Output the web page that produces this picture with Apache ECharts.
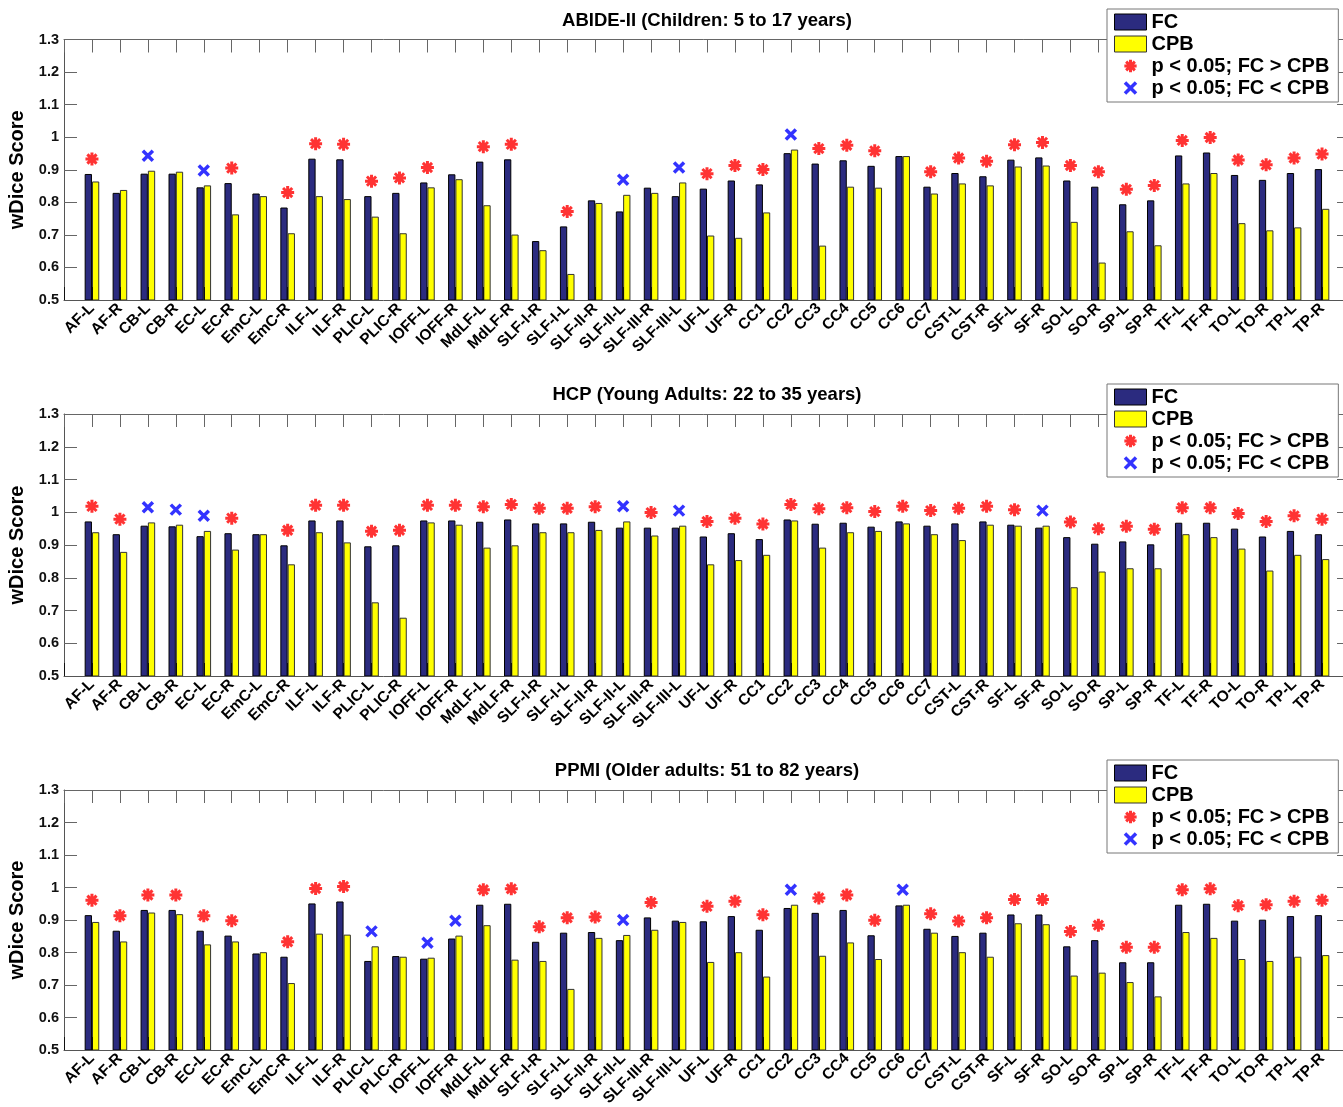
<!DOCTYPE html>
<html>
<head>
<meta charset="utf-8">
<title>wDice Score: FC vs CPB</title>
<script src="https://cdn.jsdelivr.net/npm/echarts@6/dist/echarts.min.js"></script>
<style>
  html, body { margin: 0; padding: 0; background: #fff; }
  #chart { width: 1343px; height: 1107px; }
</style>
</head>
<body>
<div id="chart"></div>
<script>
// Fibre bundle names, shared by all three cohorts
const categories = ['AF-L','AF-R','CB-L','CB-R','EC-L','EC-R','EmC-L','EmC-R','ILF-L','ILF-R',
  'PLIC-L','PLIC-R','IOFF-L','IOFF-R','MdLF-L','MdLF-R','SLF-I-R','SLF-I-L','SLF-II-R','SLF-II-L',
  'SLF-III-R','SLF-III-L','UF-L','UF-R','CC1','CC2','CC3','CC4','CC5','CC6',
  'CC7','CST-L','CST-R','SF-L','SF-R','SO-L','SO-R','SP-L','SP-R','TF-L',
  'TF-R','TO-L','TO-R','TP-L','TP-R'];

const yTicks = [0.5, 0.6, 0.7, 0.8, 0.9, 1, 1.1, 1.2, 1.3];

// ABIDE-II (children)
const abideFC  = [0.887,0.829,0.888,0.888,0.846,0.859,0.827,0.784,0.934,0.932,
  0.819,0.829,0.861,0.886,0.925,0.932,0.681,0.726,0.806,0.772,
  0.845,0.819,0.842,0.867,0.855,0.951,0.919,0.929,0.912,0.942,
  0.848,0.890,0.880,0.931,0.938,0.867,0.848,0.794,0.806,0.944,
  0.953,0.884,0.869,0.890,0.902];
const abideCPB = [0.864,0.838,0.897,0.894,0.852,0.763,0.819,0.705,0.819,0.810,
  0.756,0.705,0.846,0.871,0.791,0.701,0.653,0.580,0.798,0.823,
  0.829,0.861,0.698,0.691,0.769,0.962,0.667,0.848,0.845,0.942,
  0.827,0.858,0.852,0.910,0.913,0.740,0.615,0.711,0.668,0.858,
  0.890,0.736,0.714,0.723,0.780];
// 1: p < 0.05 with FC > CPB, -1: p < 0.05 with FC < CPB, 0: not significant
const abideSig = [1,0,-1,0,-1,1,0,1,1,1,
  1,1,1,0,1,1,0,1,0,-1,
  0,-1,1,1,1,-1,1,1,1,0,
  1,1,1,1,1,1,1,1,1,1,
  1,1,1,1,1];

// HCP (young adults)
const hcpFC  = [0.972,0.933,0.959,0.957,0.927,0.936,0.933,0.899,0.975,0.975,
  0.896,0.899,0.975,0.975,0.971,0.978,0.966,0.966,0.971,0.953,
  0.953,0.953,0.926,0.936,0.918,0.978,0.965,0.968,0.956,0.972,
  0.959,0.966,0.972,0.962,0.953,0.924,0.904,0.911,0.902,0.968,
  0.968,0.950,0.926,0.943,0.933];
const hcpCPB = [0.939,0.879,0.969,0.962,0.943,0.886,0.933,0.841,0.939,0.908,
  0.725,0.678,0.969,0.962,0.892,0.899,0.939,0.939,0.946,0.972,
  0.929,0.959,0.841,0.854,0.870,0.975,0.892,0.939,0.943,0.966,
  0.933,0.915,0.962,0.959,0.959,0.771,0.819,0.829,0.829,0.933,
  0.924,0.889,0.822,0.870,0.857];
const hcpSig = [1,1,-1,-1,-1,1,0,1,1,1,
  1,1,1,1,1,1,1,1,1,-1,
  1,-1,1,1,1,1,1,1,1,1,
  1,1,1,1,-1,1,1,1,1,1,
  1,1,1,1,1];

// PPMI (older adults)
const ppmiFC  = [0.915,0.867,0.931,0.931,0.867,0.852,0.797,0.787,0.951,0.957,
  0.774,0.789,0.781,0.843,0.947,0.950,0.833,0.861,0.863,0.838,
  0.908,0.898,0.896,0.912,0.870,0.937,0.922,0.931,0.853,0.945,
  0.873,0.851,0.861,0.917,0.917,0.819,0.838,0.770,0.770,0.947,
  0.950,0.898,0.901,0.912,0.915];
const ppmiCPB = [0.894,0.834,0.923,0.918,0.825,0.834,0.801,0.706,0.858,0.855,
  0.819,0.787,0.784,0.852,0.884,0.778,0.774,0.688,0.845,0.854,
  0.870,0.894,0.771,0.801,0.726,0.947,0.790,0.831,0.780,0.947,
  0.861,0.801,0.787,0.890,0.887,0.729,0.738,0.709,0.665,0.863,
  0.845,0.780,0.774,0.787,0.792];
const ppmiSig = [1,1,1,1,1,1,0,1,1,1,
  -1,0,-1,-1,1,1,1,1,1,-1,
  1,0,1,1,1,-1,1,1,1,-1,
  1,1,1,1,1,1,1,1,1,1,
  1,1,1,1,1];

const panelTitles = ['ABIDE-II (Children: 5 to 17 years)',
                     'HCP (Young Adults: 22 to 35 years)',
                     'PPMI (Older adults: 51 to 82 years)'];
const panelData = [
  [abideFC, abideCPB, abideSig],
  [hcpFC, hcpCPB, hcpSig],
  [ppmiFC, ppmiCPB, ppmiSig]
];

// ---- layout and styling ----
const FONT = '"Liberation Sans", Arial, Helvetica, sans-serif';
const GRID_LEFT = 64, GRID_WIDTH = 1286;
const gridTops = [39.5, 414, 790];
const gridHeights = [260.5, 262, 260];
const titleTops = [11.5, 385, 761.5];
const legendTops = [9, 384, 760];
const MARK_OFFSET = 0.046;          // markers sit just above the taller bar
const NAME_UP = 'p < 0.05; FC > CPB';
const NAME_DOWN = 'p < 0.05; FC < CPB';

const starPath = 'path://M0 -1L0 1M-1 0L1 0M-0.707 -0.707L0.707 0.707M-0.707 0.707L0.707 -0.707';
const crossPath = 'path://M-1 -1L1 1M-1 1L1 -1';
// legend icons: same glyphs, padded so they stay small inside the swatch box
const starIcon = 'path://M-1.3 -1.3M1.3 1.3M0 -1L0 1M-1 0L1 0M-0.707 -0.707L0.707 0.707M-0.707 0.707L0.707 -0.707';
const crossIcon = 'path://M-1.45 -1.45M1.45 1.45M-1 -1L1 1M-1 1L1 -1';

// one empty slot on each side so the first/last bundle sits a full step in from the frame
const axisCats = [''].concat(categories, [' ']);
const pad = arr => [null].concat(arr, [null]);

const option = {
  animation: false,
  backgroundColor: '#fff',
  title: [], grid: [], xAxis: [], yAxis: [], legend: [], series: []
};

panelData.forEach(function (d, p) {
  const fc = d[0], cpb = d[1], sig = d[2];
  const up = [], down = [];
  sig.forEach(function (s, i) {
    const top = Math.max(fc[i], cpb[i]) + MARK_OFFSET;
    if (s === 1) up.push([i + 1, top]);
    else if (s === -1) down.push([i + 1, top]);
  });

  option.title.push({
    text: panelTitles[p],
    left: GRID_LEFT + GRID_WIDTH / 2,
    textAlign: 'center',
    top: titleTops[p],
    padding: 0,
    textStyle: { fontFamily: FONT, fontSize: 18.5, fontWeight: 'bold', color: '#000' }
  });

  option.grid.push({
    left: GRID_LEFT, width: GRID_WIDTH, top: gridTops[p], height: gridHeights[p],
    containLabel: false, outerBoundsMode: 'none'
  });

  // bottom axis with labels
  option.xAxis.push({
    gridIndex: p, type: 'category', data: axisCats, boundaryGap: false,
    position: 'bottom', z: 3,
    axisLine: { show: true, lineStyle: { color: '#555', width: 1 } },
    axisTick: { show: true, inside: true, length: 13, interval: 0, lineStyle: { color: '#111', width: 1 } },
    axisLabel: { interval: 0, rotate: 45, margin: 6, fontFamily: FONT, fontSize: 15.5,
                 fontWeight: 'bold', color: '#000' },
    splitLine: { show: false }
  });
  // top frame edge with inward ticks
  option.xAxis.push({
    gridIndex: p, type: 'category', data: axisCats, boundaryGap: false,
    position: 'top',
    axisLine: { show: true, lineStyle: { color: '#666', width: 1 } },
    axisTick: { show: true, inside: true, length: 13, interval: 0, lineStyle: { color: '#666', width: 1 } },
    axisLabel: { show: false },
    splitLine: { show: false }
  });

  option.yAxis.push({
    gridIndex: p, type: 'value', min: yTicks[0], max: yTicks[yTicks.length - 1], interval: 0.1,
    position: 'left',
    name: 'wDice Score', nameLocation: 'middle', nameGap: 30, nameRotate: 90,
    nameTextStyle: { fontFamily: FONT, fontSize: 20, fontWeight: 'bold', color: '#000' },
    axisLine: { show: true, lineStyle: { color: '#555', width: 1 } },
    axisTick: { show: true, inside: true, length: 13, lineStyle: { color: '#666', width: 1 } },
    axisLabel: { margin: 5, fontFamily: FONT, fontSize: 14.5, fontWeight: 'bold', color: '#111',
                 formatter: v => String(Math.round(v * 10) / 10) },
    splitLine: { show: false }
  });
  option.yAxis.push({
    gridIndex: p, type: 'value', min: yTicks[0], max: yTicks[yTicks.length - 1], interval: 0.1,
    position: 'right',
    axisLine: { show: true, lineStyle: { color: '#555', width: 1 } },
    axisTick: { show: true, inside: true, length: 13, lineStyle: { color: '#666', width: 1 } },
    axisLabel: { show: false },
    splitLine: { show: false }
  });

  option.legend.push({
    orient: 'vertical', align: 'left',
    left: 1107, top: legendTops[p],
    itemWidth: 32, itemHeight: 16, itemGap: 2,
    padding: [3, 9, 4, 7],
    borderColor: '#777', borderWidth: 1, backgroundColor: '#fff',
    selectedMode: false,
    textStyle: { fontFamily: FONT, fontSize: 20, fontWeight: 'bold', color: '#000', lineHeight: 20 },
    data: [
      { name: 'FC', icon: 'rect', itemStyle: { color: '#2B2B7F', borderColor: '#000', borderWidth: 1 } },
      { name: 'CPB', icon: 'rect', itemStyle: { color: '#FFFF00', borderColor: '#333', borderWidth: 1 } },
      { name: NAME_UP, icon: starIcon, itemStyle: { color: 'rgba(0,0,0,0)', borderColor: '#FF0000', borderWidth: 3 } },
      { name: NAME_DOWN, icon: crossIcon, itemStyle: { color: 'rgba(0,0,0,0)', borderColor: '#0000FF', borderWidth: 3.5 } }
    ]
  });

  const xi = 2 * p, yi = 2 * p;
  option.series.push({
    name: 'FC', type: 'bar', xAxisIndex: xi, yAxisIndex: yi,
    data: pad(fc), barWidth: 7.3, barGap: '0%',
    itemStyle: { color: '#2B2B7F', borderColor: '#000', borderWidth: 1 }
  });
  option.series.push({
    name: 'CPB', type: 'bar', xAxisIndex: xi, yAxisIndex: yi,
    data: pad(cpb), barWidth: 7.3, barGap: '0%',
    itemStyle: { color: '#FFFF00', borderColor: '#333', borderWidth: 1 }
  });
  option.series.push({
    name: NAME_UP, type: 'scatter', xAxisIndex: xi, yAxisIndex: yi, z: 4,
    data: up, symbol: starPath, symbolSize: 13,
    itemStyle: { color: 'rgba(0,0,0,0)', borderColor: '#FF0000', borderWidth: 3 }
  });
  option.series.push({
    name: NAME_DOWN, type: 'scatter', xAxisIndex: xi, yAxisIndex: yi, z: 4,
    data: down, symbol: crossPath, symbolSize: 10,
    itemStyle: { color: 'rgba(0,0,0,0)', borderColor: '#0000FF', borderWidth: 3.5 }
  });
});

const chart = echarts.init(document.getElementById('chart'), null, { renderer: 'canvas' });
chart.setOption(option);
</script>
</body>
</html>
